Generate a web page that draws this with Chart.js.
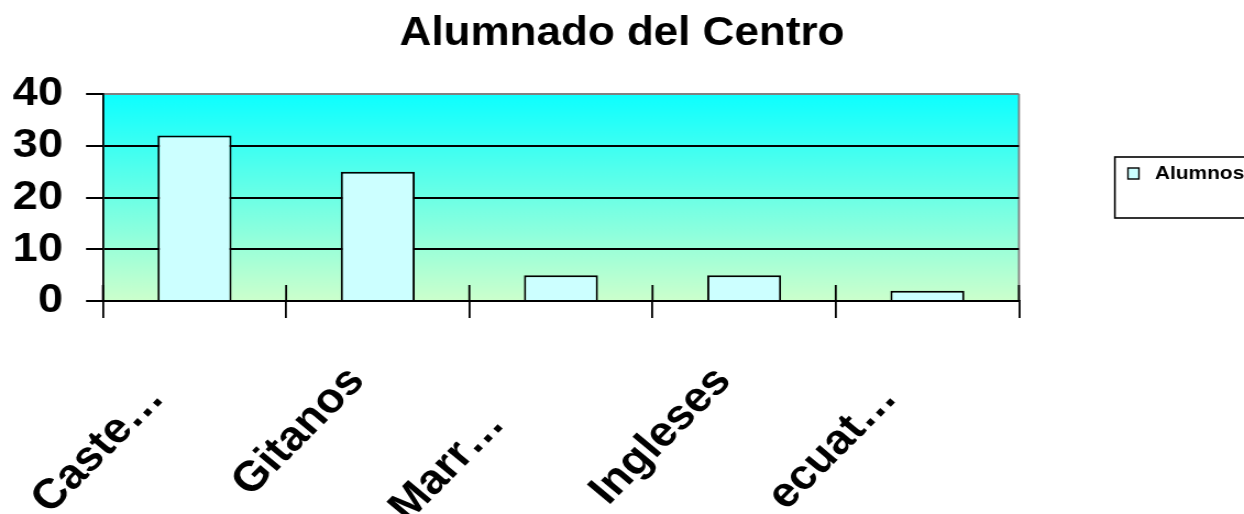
<!DOCTYPE html>
<html lang="es">
  <head>
    <meta charset="UTF-8" />
    <title>Alumnado del Centro</title>
    <script src="https://cdn.jsdelivr.net/npm/chart.js"></script>
    <style>
      html, body {
        margin: 0;
        padding: 0;
        background: #ffffff;
        overflow: hidden;
      }
      /* the reference is drawn slightly wide, so the chart is stretched sideways */
      #wrap {
        position: relative;
        width: 1131px;
        height: 514px;
        transform: scaleX(1.0999);
        transform-origin: 0 0;
      }
    </style>
  </head>
  <body>
    <div id="wrap">
      <canvas id="myChart"></canvas>
    </div>

    <script>
      const chartTitle = "Alumnado del Centro";
      const categories = ["Caste…", "Gitanos", "Marr…", "Ingleses", "ecuat…"];
      const seriesLabel = "Alumnos";
      const alumnos = [32, 25, 5, 5, 2];
      const yMin = 0;
      const yMax = 40;
      const yStep = 10;

      // truncated labels sit a little further back along the slant in the original
      const labelTrail = [2, 0, 5, 0, 2];

      const FONT = '"Liberation Sans", Arial, Helvetica, sans-serif';

      // gradient plot background + gray frame on the right
      const plotBackground = {
        id: "plotBackground",
        beforeDraw(chart) {
          const { ctx, chartArea: a } = chart;
          const g = ctx.createLinearGradient(0, a.top, 0, a.bottom);
          g.addColorStop(0, "#0cffff");
          g.addColorStop(1, "#ccffcc");
          ctx.save();
          ctx.fillStyle = g;
          ctx.fillRect(a.left, a.top, a.right - a.left, a.bottom - a.top);
          ctx.strokeStyle = "#808080";
          ctx.lineWidth = 1.8;
          ctx.beginPath();
          ctx.moveTo(a.right, a.top);
          ctx.lineTo(a.right, a.bottom);
          ctx.stroke();
          ctx.restore();
        }
      };

      // short inner tick marks at the category boundaries
      const innerTicks = {
        id: "innerTicks",
        afterDatasetsDraw(chart) {
          const { ctx, chartArea: a, scales } = chart;
          const x = scales.x;
          ctx.save();
          ctx.strokeStyle = "#000";
          ctx.lineWidth = 1.8;
          for (let i = 0; i <= categories.length; i++) {
            const px = x.getPixelForValue(i - 0.5);
            ctx.beginPath();
            ctx.moveTo(px, a.bottom - 16);
            ctx.lineTo(px, a.bottom);
            ctx.stroke();
          }
          ctx.restore();
        }
      };

      // Excel-like legend box on the right
      const boxLegend = {
        id: "boxLegend",
        afterDraw(chart) {
          const { ctx } = chart;
          const ds = chart.data.datasets[0];
          ctx.save();
          ctx.strokeStyle = "#000";
          ctx.lineWidth = 1.6;
          ctx.strokeRect(1013.6, 157, 140, 61);
          ctx.fillStyle = ds.backgroundColor;
          ctx.fillRect(1025.5, 168, 10, 11);
          ctx.lineWidth = 1.4;
          ctx.strokeRect(1025.5, 168, 10, 11);
          ctx.fillStyle = "#000";
          ctx.font = "bold 19px " + FONT;
          ctx.textBaseline = "middle";
          ctx.textAlign = "left";
          ctx.fillText(ds.label, 1050, 174);
          ctx.restore();
        }
      };

      new Chart(document.getElementById("myChart"), {
        type: "bar",
        data: {
          labels: categories,
          datasets: [
            {
              label: seriesLabel,
              data: alumnos,
              backgroundColor: "#ccffff",
              borderColor: "#000000",
              borderWidth: 2,
              borderSkipped: "start",
              barPercentage: 0.404,
              categoryPercentage: 1.0
            }
          ]
        },
        options: {
          responsive: true,
          maintainAspectRatio: false,
          animation: false,
          layout: { padding: 0 },
          plugins: {
            legend: { display: false },
            tooltip: { enabled: false },
            title: {
              display: true,
              text: chartTitle,
              color: "#000",
              font: { family: FONT, size: 40, weight: "bold", lineHeight: 1.2 },
              padding: { top: 10, bottom: 36 }
            }
          },
          scales: {
            x: {
              offset: true,
              afterFit(scale) { scale.height = 213; },
              border: { display: true, color: "#000", width: 2 },
              grid: {
                display: true,
                offset: true,
                drawOnChartArea: false,
                drawTicks: true,
                tickLength: 17,
                color: "#000",
                lineWidth: 1.8
              },
              ticks: {
                color: "#000",
                autoSkip: false,
                minRotation: 47.7,
                maxRotation: 47.7,
                padding: 39,
                labelOffset: -19,
                callback: (v, i) => categories[i] + " ".repeat(labelTrail[i]),
                font: { family: FONT, size: 42, weight: "bold" }
              }
            },
            y: {
              min: yMin,
              max: yMax,
              afterFit(scale) { scale.width = 93.6; },
              border: { display: true, color: "#000", width: 1.8 },
              grid: {
                color: (c) => (c.tick && c.tick.value === yMax ? "#808080" : "#000"),
                tickColor: "#000",
                lineWidth: 2,
                tickLength: 15.4
              },
              ticks: {
                stepSize: yStep,
                autoSkip: false,
                color: "#000",
                padding: 21,
                font: { family: FONT, size: 41, weight: "bold" }
              }
            },
            // empty right-hand axis that only reserves room for the legend
            y2: {
              position: "right",
              display: true,
              afterFit(scale) { scale.width = 204.6; },
              border: { display: false },
              grid: { display: false },
              ticks: { display: false }
            }
          }
        },
        plugins: [plotBackground, innerTicks, boxLegend]
      });
    </script>
  </body>
</html>
